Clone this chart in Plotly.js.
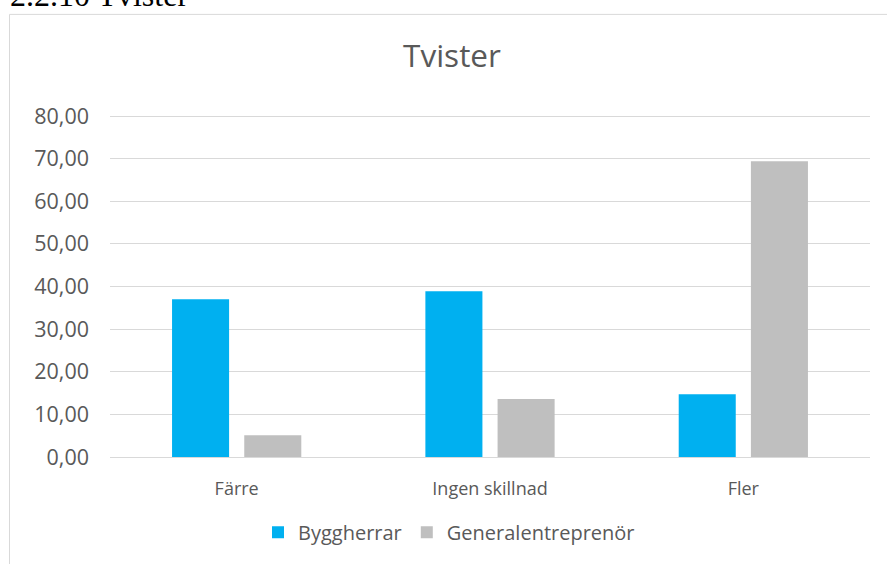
<!DOCTYPE html>
<html>
<head>
<meta charset="utf-8">
<script src="https://cdn.plot.ly/plotly-3.0.1.min.js"></script>
<style>html,body{margin:0;padding:0;background:#fff;}#chart{width:887px;height:564px;}</style>
</head>
<body>
<div id="chart"></div>
<script>
const categories = ["Färre", "Ingen skillnad", "Fler"];
const seriesNames = ["Byggherrar", "Generalentreprenör"];
const byggherrar = [37.0, 38.9, 14.7];
const generalentreprenor = [5.1, 13.6, 69.4];
const yTickValues = [0, 10, 20, 30, 40, 50, 60, 70, 80];
const chartTitle = "Tvister";
const caption = "2.2.10 Tvister";

const W = 887, H = 564;
const M = {l: 110, r: 17, t: 115, b: 104};
const pw = W - M.l - M.r, ph = H - M.t - M.b;
const px = v => (v - M.l) / pw;
const py = v => (H - M.b - v) / ph;

const font = "'Open Sans', 'Noto Sans', sans-serif";
const txt = "#595959";

const traces = [
  {type: "bar", name: seriesNames[0], x: categories, y: byggherrar,
   marker: {color: "#00b0f0"}, hoverinfo: "skip"},
  {type: "bar", name: seriesNames[1], x: categories, y: generalentreprenor,
   marker: {color: "#bfbfbf"}, hoverinfo: "skip"}
];

const layout = {
  width: W, height: H,
  margin: M,
  paper_bgcolor: "#fff", plot_bgcolor: "#fff",
  separators: ", ",
  barmode: "group", bargap: 0.43, bargroupgap: 0.21,
  font: {family: font, color: txt},
  title: {text: chartTitle, font: {family: font, size: 31.5, color: txt},
          x: 452 / W, xanchor: "center", xref: "container", y: 1 - 56 / H, yref: "container", yanchor: "middle"},
  xaxis: {type: "category", tickfont: {size: 18, color: txt}, showgrid: false,
          showline: false, ticks: "", zeroline: false, ticklabelstandoff: 19, fixedrange: true},
  yaxis: {range: [0, 80.25], tickvals: yTickValues, tickformat: ".2f",
          tickfont: {size: 21.5, color: txt}, showgrid: true, gridcolor: "#d9d9d9", gridwidth: 1,
          zeroline: true, zerolinecolor: "#d9d9d9", zerolinewidth: 1, showline: false, ticks: "",
          ticklabelstandoff: 20, fixedrange: true},
  showlegend: true,
  legend: {orientation: "h", x: px(449), xanchor: "center", y: py(536), yanchor: "middle",
           font: {size: 20, color: txt}, itemwidth: 30, traceorder: "normal"},
  annotations: [
    {text: caption, xref: "paper", yref: "paper", x: px(8), xanchor: "left", y: py(14), yanchor: "bottom",
     showarrow: false, font: {family: "'Liberation Serif', 'Times New Roman', serif", size: 32, color: "#000"}}
  ],
  shapes: [
    {type: "rect", xref: "paper", yref: "paper", x0: px(9.5), x1: px(920), y0: py(620), y1: py(13.5),
     line: {color: "#d9d9d9", width: 1}, fillcolor: "rgba(0,0,0,0)", layer: "above"}
  ]
};

Plotly.newPlot("chart", traces, layout, {staticPlot: true, displayModeBar: false});
</script>
</body>
</html>
